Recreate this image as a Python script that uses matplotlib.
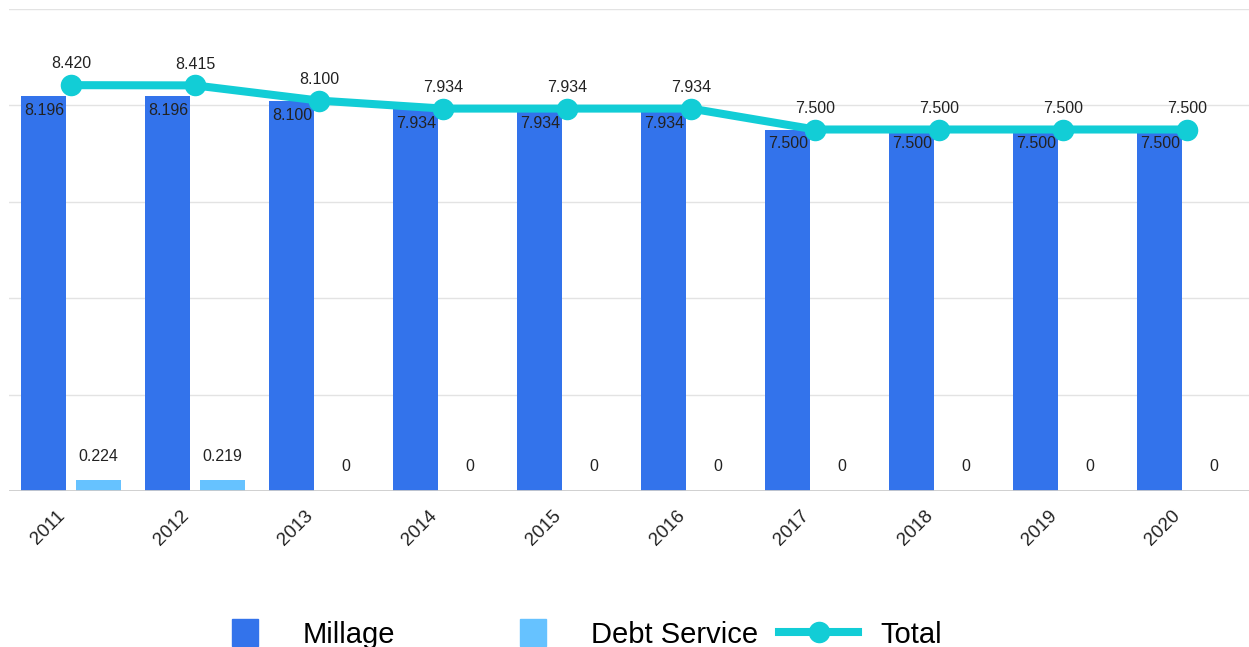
import matplotlib.pyplot as plt
import matplotlib.transforms as mtransforms
import numpy as np
from matplotlib.lines import Line2D
from matplotlib.patches import Rectangle

plt.rcParams['font.family'] = ['Liberation Sans', 'DejaVu Sans']

# Tax rates by year
years = ['2011', '2012', '2013', '2014', '2015', '2016', '2017', '2018', '2019', '2020']
millage = [8.196, 8.196, 8.100, 7.934, 7.934, 7.934, 7.500, 7.500, 7.500, 7.500]
debt_service = [0.224, 0.219, 0, 0, 0, 0, 0, 0, 0, 0]
total = [8.420, 8.415, 8.100, 7.934, 7.934, 7.934, 7.500, 7.500, 7.500, 7.500]

c_mill = '#3373EB'
c_debt = '#66C2FF'
c_total = '#12CDD6'
txt = '#222222'

fig = plt.figure(figsize=(12.49, 6.47), dpi=100)
ax = fig.add_axes([9 / 1249, 1 - 491 / 647, 1240 / 1249, 482 / 647])

x = np.arange(len(years))
w = 0.363
off = 0.218

ax.bar(x - off, millage, width=w, color=c_mill, zorder=2)
ax.bar(x + off, debt_service, width=w, color=c_debt, zorder=2)
ax.plot(x, total, color=c_total, lw=5.8, marker='o', ms=14.5, zorder=4,
        solid_capstyle='round')

# value labels
for i in range(len(years)):
    ax.annotate(f'{millage[i]:.3f}', (x[i] - off, millage[i]), xytext=(0, -5),
                textcoords='offset points', ha='center', va='top',
                fontsize=11.5, color=txt, zorder=5)
    lab = '0' if debt_service[i] == 0 else f'{debt_service[i]:.3f}'
    ax.annotate(lab, (x[i] + off, debt_service[i]), xytext=(0, 12),
                textcoords='offset points', ha='center', va='bottom',
                fontsize=11.5, color=txt, zorder=5)
    ax.annotate(f'{total[i]:.3f}', (x[i], total[i]), xytext=(0, 10),
                textcoords='offset points', ha='center', va='bottom',
                fontsize=11.5, color=txt, zorder=5)

ax.set_xlim(-0.5, 9.5)
ax.set_ylim(0, 10)
ax.set_yticks([2, 4, 6, 8, 10])
ax.set_yticklabels([])
ax.yaxis.grid(True, color='#e3e3e3', lw=1)
ax.set_axisbelow(True)
ax.axhline(0, color='#cccccc', lw=2, zorder=3)
ax.tick_params(length=0)
ax.set_xticks(x)
ax.set_xticklabels(years, rotation=45, ha='right', va='center',
                   rotation_mode='anchor', fontsize=13.5, color=txt)
ax.tick_params(axis='x', pad=16)
shift = mtransforms.ScaledTranslation(-9 / 100, 0, fig.dpi_scale_trans)
for t in ax.get_xticklabels():
    t.set_transform(t.get_transform() + shift)
for s in ax.spines.values():
    s.set_visible(False)

# legend along the bottom
H, W = 647, 1249
fig.patches.append(Rectangle((232 / W, 1 - 646 / H), 26 / W, 27 / H,
                             transform=fig.transFigure, color=c_mill))
fig.text(303 / W, 1 - 643 / H, 'Millage', fontsize=21, color='black',
         va='baseline')
fig.patches.append(Rectangle((520 / W, 1 - 646 / H), 26 / W, 27 / H,
                             transform=fig.transFigure, color=c_debt))
fig.text(591 / W, 1 - 643 / H, 'Debt Service', fontsize=21, color='black',
         va='baseline')
fig.lines.append(Line2D([779 / W, 858 / W], [1 - 632 / H, 1 - 632 / H],
                        transform=fig.transFigure, color=c_total, lw=5.8))
fig.lines.append(Line2D([819 / W], [1 - 632 / H], transform=fig.transFigure,
                        color=c_total, marker='o', ms=14.5))
fig.text(880 / W, 1 - 643 / H, 'Total', fontsize=21, color='black',
         va='baseline')

fig.savefig('out.png', dpi=100)
